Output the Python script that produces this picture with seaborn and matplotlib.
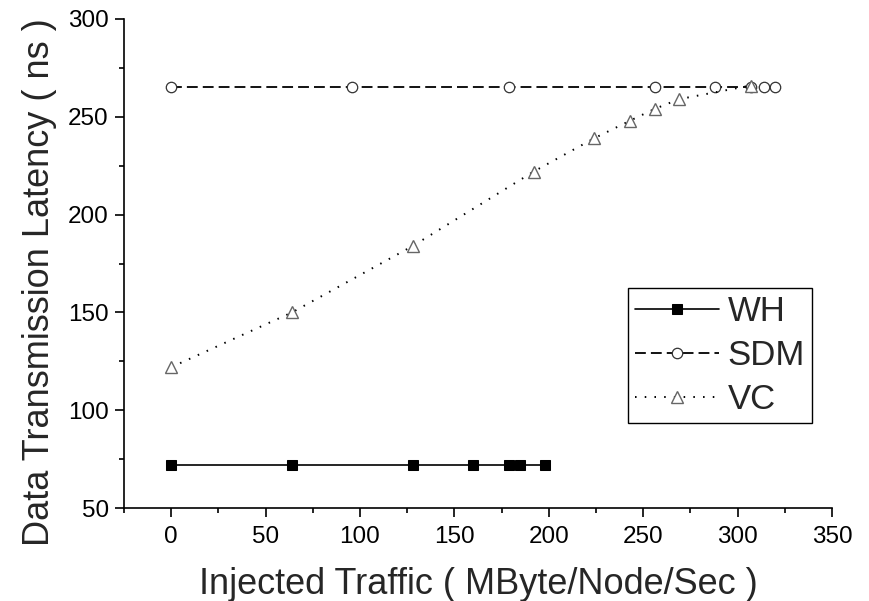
import matplotlib
matplotlib.use("Agg")
import matplotlib.pyplot as plt
from matplotlib.ticker import MultipleLocator
import seaborn as sns
import pandas as pd

# Injected traffic (MByte/Node/Sec) and latency (ns) per switching scheme
wh_x = [0, 64, 128, 160, 179, 185, 198]
wh_y = [72, 72, 72, 72, 72, 72, 72]

sdm_x = [0, 96, 179, 256, 288, 307, 314, 320]
sdm_y = [265, 265, 265, 265, 265, 265, 265, 265]

vc_x = [0, 64, 128, 192, 224, 243, 256, 269, 307]
vc_y = [122, 150, 184, 222, 239, 248, 254, 259, 266]

x_ticks = [0, 50, 100, 150, 200, 250, 300, 350]
y_ticks = [50, 100, 150, 200, 250, 300]

sns.set_style("ticks")
plt.rcParams["font.family"] = ["Liberation Sans", "DejaVu Sans"]

fig = plt.figure(figsize=(8.69, 6.01), dpi=100)
ax = fig.add_axes([0.1427, 0.1547, 0.8147, 0.8137])

wh = pd.DataFrame({"x": wh_x, "y": wh_y})
sdm = pd.DataFrame({"x": sdm_x, "y": sdm_y})
vc = pd.DataFrame({"x": vc_x, "y": vc_y})

sns.lineplot(data=wh, x="x", y="y", ax=ax, color="black", linewidth=1.2,
             linestyle="-", marker="s", markersize=7, markerfacecolor="black",
             markeredgecolor="black", label="WH")
sns.lineplot(data=sdm, x="x", y="y", ax=ax, color="black", linewidth=1.3,
             dashes=(6, 2.8), marker="o", markersize=7.5, markerfacecolor="white",
             markeredgecolor="#333333", markeredgewidth=0.9, label="SDM")
sns.lineplot(data=vc, x="x", y="y", ax=ax, color="black", linewidth=1.4,
             dashes=(0.8, 4.2), marker="^", markersize=8, markerfacecolor="white",
             markeredgecolor="#666666", markeredgewidth=1.0, label="VC")

ax.set_xlim(-25, 350)
ax.set_ylim(50, 300)
ax.set_xticks(x_ticks)
ax.set_yticks(y_ticks)
ax.xaxis.set_minor_locator(MultipleLocator(25))
ax.yaxis.set_minor_locator(MultipleLocator(25))

sns.despine(ax=ax)
for side in ("left", "bottom"):
    ax.spines[side].set_linewidth(1.2)
    ax.spines[side].set_color("black")
ax.tick_params(which="major", direction="out", length=6.5, width=1.2,
               colors="black", labelsize=17.5, pad=4.5)
ax.tick_params(axis="x", which="major", pad=6.5)
ax.tick_params(which="minor", direction="out", length=3.6, width=1.2, colors="black")

ax.set_xlabel("Injected Traffic ( MByte/Node/Sec )", fontsize=26, labelpad=13.5)
ax.set_ylabel("Data Transmission Latency ( ns )", fontsize=26, labelpad=8, y=0.462)

leg = ax.legend(loc="upper left", bbox_to_anchor=(0.712, 0.450), borderaxespad=0,
                fontsize=25, frameon=True, fancybox=False, shadow=False,
                handlelength=2.42, handletextpad=0.24, labelspacing=0.32,
                borderpad=0.2)
frame = leg.get_frame()
frame.set_edgecolor("black")
frame.set_linewidth(1.0)
frame.set_alpha(1)

fig.savefig("out.png", dpi=100)
